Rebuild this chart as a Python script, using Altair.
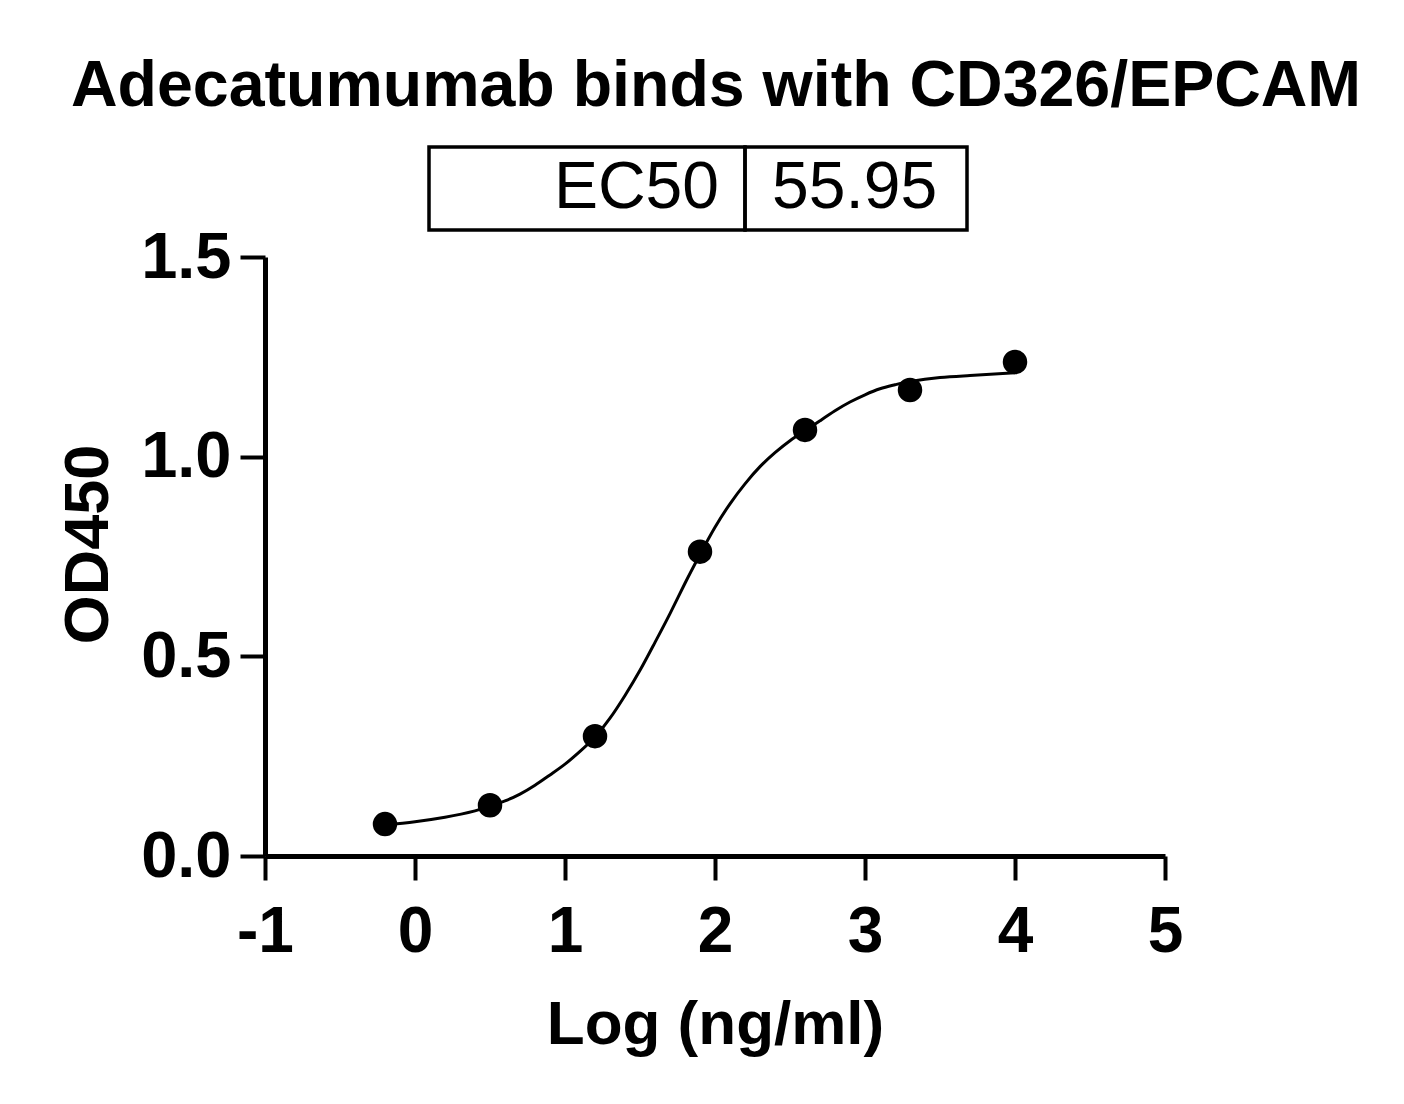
import altair as alt
import pandas as pd

# ---- data ----
log_conc = [-0.2, 0.5, 1.2, 1.9, 2.6, 3.3, 4.0]
od450 = [0.080, 0.127, 0.300, 0.762, 1.067, 1.167, 1.237]

# fitted curve
curve_x = [-0.2, 0.0, 0.2, 0.4, 0.5, 0.6, 0.7, 0.8, 0.9, 1.0, 1.1, 1.2, 1.3, 1.4,
           1.5, 1.6, 1.7, 1.8, 1.9, 2.0, 2.1, 2.2, 2.3, 2.4, 2.5, 2.6, 2.7, 2.8,
           2.9, 3.0, 3.1, 3.2, 3.3, 3.5, 3.7, 4.0]
curve_y = [0.078, 0.086, 0.097, 0.113, 0.125, 0.138, 0.155, 0.177, 0.203, 0.230,
           0.262, 0.298, 0.345, 0.402, 0.465, 0.535, 0.607, 0.683, 0.755, 0.823,
           0.882, 0.932, 0.975, 1.010, 1.040, 1.065, 1.090, 1.115, 1.137, 1.155,
           1.170, 1.180, 1.188, 1.198, 1.203, 1.210]

x_ticks = [-1, 0, 1, 2, 3, 4, 5]
y_ticks = [0.0, 0.5, 1.0, 1.5]

title_text = "Adecatumumab binds with CD326/EPCAM"
ec50_label = "EC50"
ec50_value = "55.95"
x_title = "Log (ng/ml)"
y_title = "OD450"

FONT = "Liberation Sans"

pts = pd.DataFrame({"x": log_conc, "y": od450})
crv = pd.DataFrame({"x": curve_x, "y": curve_y})

x_enc = alt.X(
    "x:Q",
    scale=alt.Scale(domain=[-1, 5], nice=False, zero=False),
    axis=alt.Axis(
        values=x_ticks, labelExpr="'' + datum.value", title=x_title,
        tickSize=24, labelPadding=20, labelFontSize=64,
        titleX=450, titleY=187, titleBaseline="alphabetic", titleAlign="center",
        titleFontSize=62,
    ),
)
y_enc = alt.Y(
    "y:Q",
    scale=alt.Scale(domain=[0, 1.5], nice=False, zero=False),
    axis=alt.Axis(
        values=y_ticks, format=".1f", title=y_title,
        tickSize=25, labelPadding=9, labelFontSize=65,
        titleX=-158, titleY=287, titleAngle=-90, titleBaseline="alphabetic",
        titleAlign="center", titleFontSize=63,
    ),
)

curve = alt.Chart(crv).mark_line(
    color="black", strokeWidth=3, interpolate="natural"
).encode(x=x_enc, y=y_enc)

points = alt.Chart(pts).mark_circle(
    color="black", size=600, opacity=1
).encode(x=alt.X("x:Q"), y=alt.Y("y:Q"))

title = alt.Chart(pd.DataFrame({"t": [title_text]})).mark_text(
    font=FONT, fontSize=64.5, fontWeight="bold", color="black",
    align="center", baseline="alphabetic"
).encode(text="t:N", x=alt.value(451), y=alt.value(-151))

box_left = alt.Chart(pd.DataFrame({"k": [0]})).mark_rect(
    fill="white", fillOpacity=0, stroke="black", strokeWidth=3.5
).encode(x=alt.value(164), x2=alt.value(480), y=alt.value(-110), y2=alt.value(-27))

box_right = alt.Chart(pd.DataFrame({"k": [0]})).mark_rect(
    fill="white", fillOpacity=0, stroke="black", strokeWidth=3.5
).encode(x=alt.value(480), x2=alt.value(702), y=alt.value(-110), y2=alt.value(-27))

ec50_t = alt.Chart(pd.DataFrame({"t": [ec50_label]})).mark_text(
    font=FONT, fontSize=66, color="black", align="right", baseline="alphabetic"
).encode(text="t:N", x=alt.value(454), y=alt.value(-49))

ec50_v = alt.Chart(pd.DataFrame({"t": [ec50_value]})).mark_text(
    font=FONT, fontSize=66, color="black", align="left", baseline="alphabetic"
).encode(text="t:N", x=alt.value(507), y=alt.value(-49))

chart = alt.layer(curve, points, title, box_left, box_right, ec50_t, ec50_v).properties(
    width=900, height=599,
    autosize="none",
    padding={"left": 257, "top": 249, "right": 231, "bottom": 240},
).configure_view(stroke=None).configure_axis(
    grid=False,
    domainColor="black", domainWidth=5,
    tickColor="black", tickWidth=4,
    labelFont=FONT, labelFontWeight="bold", labelColor="black",
    titleFont=FONT, titleFontWeight="bold", titleColor="black",
    labelFlush=False, labelOverlap=False,
)

chart.save("out.html", embed_options={"renderer": "svg", "actions": False})
